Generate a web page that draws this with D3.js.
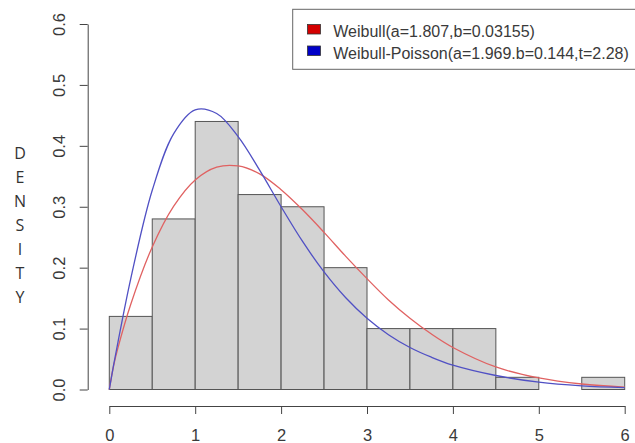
<!DOCTYPE html>
<html lang="en">

<head>
    <meta charset="UTF-8">
    <title>Density</title>
    <script src="https://d3js.org/d3.v7.min.js"></script>
    <style>
        body { margin: 0; background: #fff; }
        svg { display: block; font-family: "Liberation Sans", Arial, sans-serif; }
        .axis text { fill: #3a3a3a; font-size: 16.5px; }
        .axis path, .axis line { stroke: #444; }
    </style>
</head>

<body>
    <svg width="635" height="443" id="grafico"></svg>
    <script>

        // histogram bins (width 0.5) and their densities
        var binStarts = [0, 0.5, 1, 1.5, 2, 2.5, 3, 3.5, 4, 4.5, 5, 5.5];
        var binDensity = [0.12, 0.28, 0.44, 0.32, 0.30, 0.20, 0.10, 0.10, 0.10, 0.02, 0, 0.02];
        var binWidth = 0.5;

        // fitted curves
        var curveX = [0, 0.05, 0.1, 0.25, 0.5, 0.75, 1, 1.25, 1.5, 1.75, 2, 2.25, 2.5, 2.75, 3, 3.25, 3.5, 3.75, 4, 4.5, 5, 5.5, 6];
        var weibull = [0, 0.039, 0.068, 0.140, 0.234, 0.301, 0.344, 0.365, 0.367, 0.354, 0.328, 0.295, 0.258, 0.219, 0.182, 0.147, 0.117, 0.091, 0.069, 0.037, 0.019, 0.009, 0.004];
        var weibullPoisson = [0, 0.040, 0.077, 0.182, 0.327, 0.420, 0.459, 0.453, 0.415, 0.360, 0.300, 0.243, 0.193, 0.151, 0.117, 0.090, 0.069, 0.053, 0.040, 0.023, 0.012, 0.006, 0.003];

        var xTicks = [0, 1, 2, 3, 4, 5, 6];
        var yTicks = [0, 0.1, 0.2, 0.3, 0.4, 0.5, 0.6];
        var yLabel = ["D", "E", "N", "S", "I", "T", "Y"];
        var legendLabels = ["Weibull(a=1.807,b=0.03155)", "Weibull-Poisson(a=1.969.b=0.144,t=2.28)"];
        var legendColors = ["#d40000", "#0000c8"];

        var svg = d3.select("svg");

        var x = d3.scaleLinear().domain([0, 6]).range([109.3, 624.7]);
        var y = d3.scaleLinear().domain([0, 0.6]).range([389.5, 24]);

        // bars
        svg.append("g").selectAll("rect")
            .data(binStarts)
            .enter().append("rect")
            .attr("x", function (d) { return x(d); })
            .attr("width", function (d) { return x(d + binWidth) - x(d); })
            .attr("y", function (d, i) { return y(binDensity[i]); })
            .attr("height", function (d, i) { return y(0) - y(binDensity[i]); })
            .attr("fill", "#d3d3d3")
            .attr("stroke", "#555")
            .attr("stroke-width", 1);

        // curves
        var line = d3.line()
            .x(function (d, i) { return x(curveX[i]); })
            .y(function (d) { return y(d); })
            .curve(d3.curveCatmullRom.alpha(0.5));

        svg.append("path")
            .datum(weibull)
            .attr("d", line)
            .attr("fill", "none")
            .attr("stroke", "#e06262")
            .attr("stroke-width", 1.3);

        svg.append("path")
            .datum(weibullPoisson)
            .attr("d", line)
            .attr("fill", "none")
            .attr("stroke", "#5050c4")
            .attr("stroke-width", 1.3);

        // y axis, R style with rotated labels
        var gy = svg.append("g")
            .attr("class", "axis")
            .attr("transform", "translate(87.7,0)")
            .call(d3.axisLeft(y).tickValues(yTicks).tickSize(8).tickSizeOuter(0).tickFormat(d3.format(".1f")));
        gy.selectAll(".tick text")
            .attr("transform", "rotate(-90)")
            .attr("text-anchor", "middle")
            .attr("x", 0)
            .attr("y", -22.7)
            .attr("dy", 0);

        // x axis
        var gx = svg.append("g")
            .attr("class", "axis")
            .attr("transform", "translate(0,406)")
            .call(d3.axisBottom(x).tickValues(xTicks).tickSize(8).tickSizeOuter(0).tickFormat(d3.format("d")));
        gx.selectAll(".tick text")
            .attr("y", 35)
            .attr("dy", 0);

        // vertical letters for the y label
        svg.append("g").selectAll("text")
            .data(yLabel)
            .enter().append("text")
            .attr("x", 20)
            .attr("y", function (d, i) { return 158.5 + i * 24; })
            .attr("text-anchor", "middle")
            .style("font-family", "'Open Sans', sans-serif")
            .style("font-size", "16px")
            .attr("fill", "#333")
            .text(function (d) { return d; });

        // legend
        var legend = svg.append("g");
        legend.append("rect")
            .attr("x", 292.7)
            .attr("y", 9.3)
            .attr("width", 360)
            .attr("height", 60)
            .attr("fill", "#fff")
            .attr("stroke", "#666");

        legend.selectAll(".key")
            .data(legendLabels)
            .enter().append("rect")
            .attr("x", 307.5)
            .attr("y", function (d, i) { return 24.5 + i * 21.5; })
            .attr("width", 13)
            .attr("height", 9.5)
            .attr("fill", function (d, i) { return legendColors[i]; })
            .attr("stroke", "#333")
            .attr("stroke-width", 0.8);

        legend.selectAll(".lab")
            .data(legendLabels)
            .enter().append("text")
            .attr("x", 333.3)
            .attr("y", function (d, i) { return 37 + i * 21.5; })
            .style("font-size", "16px")
            .attr("fill", "#3a3a3a")
            .text(function (d) { return d; });

    </script>
</body>

</html>
